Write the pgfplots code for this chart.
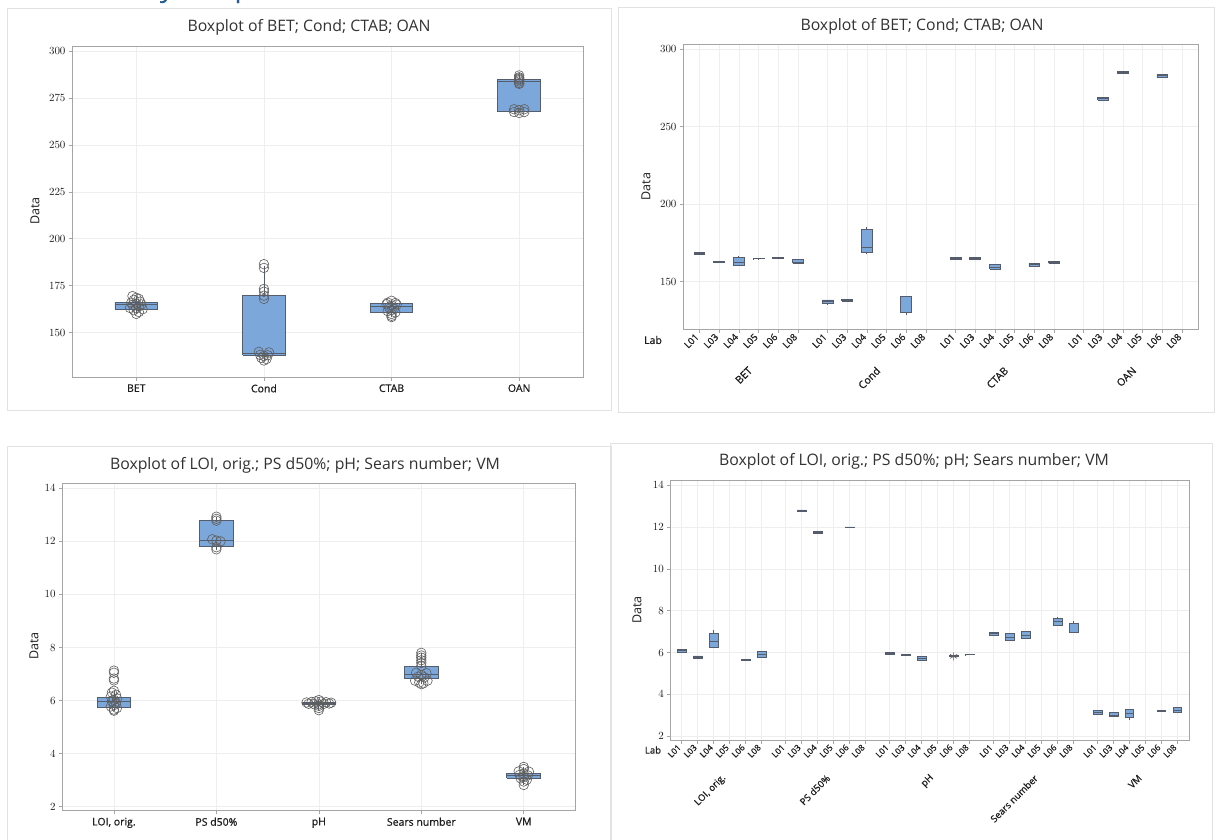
\documentclass[border=0pt]{standalone}
\usepackage{fontspec}
\setmainfont{Open Sans}
\newfontfamily\tf{Open Sans}[FakeBold=0.7]
\usepackage{pgfplots}
\pgfplotsset{compat=1.18}
\definecolor{boxfill}{RGB}{124,167,218}
\definecolor{boxedge}{RGB}{85,93,108}
\definecolor{ptc}{RGB}{95,95,95}
\definecolor{gridc}{RGB}{238,238,238}
\definecolor{axisc}{RGB}{165,165,165}
\definecolor{framec}{RGB}{226,226,226}
\definecolor{txt}{RGB}{30,30,30}
\definecolor{titlec}{RGB}{50,50,50}
\definecolor{hdr}{RGB}{40,90,140}
\pgfplotsset{
  mini/.style={
    scale only axis, anchor=north west,
    axis line style={draw=axisc, line width=0.9pt},
    tick align=outside, tick pos=left,
    major tick length=3.5pt,
    tick style={draw=axisc, line width=0.7pt},
    grid=major, major grid style={draw=gridc, line width=0.7pt},
    tick label style={font=\tf\fontsize{10.5}{12}\selectfont, text=txt},
    clip=false,
  },
  pts/.style={only marks, mark=o, mark size=4.8pt, draw=ptc, mark options={line width=0.6pt, draw=ptc, fill=none}},
}
% pos, lw, lq, med, uq, uw, halfwidth
\newcommand\bx[7]{%
  \pgfmathsetmacro\xa{#1-#7}\pgfmathsetmacro\xb{#1+#7}%
  \addplot[draw=boxedge, line width=0.8pt, mark=none] coordinates {(#1,#2)(#1,#6)};%
  \addplot[draw=boxedge, fill=boxfill, line width=0.8pt, mark=none, line join=miter] coordinates {(\xa,#3)(\xb,#3)(\xb,#5)(\xa,#5)(\xa,#3)};%
  \addplot[draw=boxedge, line width=0.9pt, mark=none] coordinates {(\xa,#4)(\xb,#4)};%
}
\begin{document}
\begin{tikzpicture}
\useasboundingbox (0pt,0pt) rectangle (1219pt,-839pt);
\fill[white] (0pt,0pt) rectangle (1219pt,-839pt);
\begin{scope}
\clip (0pt,0pt) rectangle (600pt,-7pt);
\node[anchor=base west, inner sep=0pt, text=hdr, font=\fontsize{30}{36}\selectfont] at (40pt,4pt) {Summary boxplot};
\end{scope}
% panel frames
\draw[framec, line width=1pt] (7pt,-8pt) rectangle (611pt,-410pt);
\draw[framec, line width=1pt] (618pt,-7pt) rectangle (1214pt,-412pt);
\draw[framec, line width=1pt] (7pt,-446pt) rectangle (611pt,-845pt);
\draw[framec, line width=1pt] (610pt,-443pt) rectangle (1212pt,-845pt);
% titles
\node[text=titlec, font=\fontsize{15.8}{18}\selectfont] at (309pt,-27.5pt) {Boxplot of BET; Cond; CTAB; OAN};
\node[text=titlec, font=\fontsize{15.8}{18}\selectfont] at (922pt,-26pt) {Boxplot of BET; Cond; CTAB; OAN};
\node[text=titlec, font=\fontsize{15.8}{18}\selectfont] at (305pt,-465pt) {Boxplot of LOI, orig.; PS d50\%; pH; Sears number; VM};
\node[text=titlec, font=\fontsize{15.8}{18}\selectfont] at (914pt,-461pt) {Boxplot of LOI, orig.; PS d50\%; pH; Sears number; VM};
% y labels
\node[rotate=90, text=txt, font=\fontsize{12.5}{14}\selectfont] at (35pt,-211pt) {Data};
\node[rotate=90, text=txt, font=\fontsize{12.5}{14}\selectfont] at (646pt,-186.5pt) {Data};
\node[rotate=90, text=txt, font=\fontsize{12.5}{14}\selectfont] at (34pt,-646pt) {Data};
\node[rotate=90, text=txt, font=\fontsize{12.5}{14}\selectfont] at (637pt,-610pt) {Data};
\node[text=txt, font=\tf\fontsize{10.5}{12}\selectfont] at (653pt,-340pt) {Lab};
\node[text=txt, font=\tf\fontsize{9.5}{11}\selectfont] at (653pt,-750pt) {Lab};

% ---------- Panel 1 ----------
\begin{axis}[mini, at={(72.5pt,-46pt)}, width=510.5pt, height=331.3pt,
  xmin=0.5, xmax=4.5, ymin=126.25, ymax=302.66,
  xtick={1,2,3,4}, xticklabels={BET,Cond,CTAB,OAN},
  ytick={150,175,200,225,250,275,300}]
\bx{1}{160}{162.5}{164.9}{166.2}{169.5}{0.167}
\bx{2}{135.2}{138}{138.7}{170}{185.5}{0.167}
\bx{3}{158.3}{161}{164}{165.8}{167}{0.167}
\bx{4}{267}{267.7}{284}{284.8}{287}{0.167}
\addplot[pts] coordinates {
(0.97,169.5)(1.0,168.6)(1.02,168)(0.98,167.5)(1.03,166.5)(0.96,166)(1.0,165.5)(1.04,165)(0.97,164.8)(1.02,164)(0.95,163.2)(1.0,163)(1.05,162.5)(0.98,162)(1.02,161)(1.0,160)
(2,186.5)(2,184.5)(2,173.3)(2,171.8)(2,169.7)(2,168)(1.96,139.8)(2.04,139.5)(1.97,138.2)(2.03,138)(2,137.6)(1.98,136.6)(2.02,136)(2,135.2)
(3,167)(2.97,166)(3.03,165.8)(2.96,165.2)(3.04,165)(3,164.5)(2.98,163.5)(3.02,162.8)(3,162)(2.97,161.5)(3.03,160.8)(3,160)(3,159)(3,158.3)
(4,287)(4,286)(4,285.5)(4,285)(4,284.5)(4,283.8)(4,283)(4,282.5)(3.96,269)(4.04,269)(4,268.5)(3.96,267.5)(4.04,267.5)(4,267)
};
\end{axis}

% ---------- Panel 2 ----------
\begin{axis}[mini, at={(683.5pt,-44.7pt)}, width=514.5pt, height=284.6pt,
  xmin=-0.81, xmax=25.31, ymin=119.3, ymax=302.8,
  xtick={0,1,2,3,4,5,6.5,7.5,8.5,9.5,10.5,11.5,13,14,15,16,17,18,19.5,20.5,21.5,22.5,23.5,24.5},
  xticklabels={L01,L03,L04,L05,L06,L08,L01,L03,L04,L05,L06,L08,L01,L03,L04,L05,L06,L08,L01,L03,L04,L05,L06,L08},
  xticklabel style={rotate=45, anchor=east, font=\tf\fontsize{9.5}{11}\selectfont},
  ytick={150,200,250,300}]
\bx{0}{167.5}{167.6}{168.0}{168.7}{168.8}{0.275}
\bx{1}{162.1}{162.2}{162.5}{163.3}{163.4}{0.275}
\bx{2}{160.1}{160.8}{162.5}{165.9}{166.5}{0.275}
\bx{3}{164.7}{164.75}{164.8}{164.85}{164.9}{0.275}
\bx{4}{164.8}{164.8}{165.2}{165.7}{165.8}{0.275}
\bx{5}{162.0}{162.0}{162.7}{164.2}{164.8}{0.275}
\bx{6.5}{135.2}{135.8}{137.1}{138.2}{138.3}{0.275}
\bx{7.5}{137.5}{137.6}{138.0}{138.6}{138.7}{0.275}
\bx{8.5}{167.8}{168.7}{172.2}{183.8}{185}{0.275}
\bx{10.5}{128.5}{130.0}{130.0}{140.3}{140.3}{0.275}
\bx{13}{164.6}{164.6}{165.0}{165.5}{165.5}{0.275}
\bx{14}{164.2}{164.2}{165.0}{165.9}{165.9}{0.275}
\bx{15}{158.2}{158.2}{159.5}{161.0}{161.0}{0.275}
\bx{17}{160.1}{160.1}{160.8}{161.8}{161.8}{0.275}
\bx{18}{161.8}{161.8}{162.5}{163.1}{163.1}{0.275}
\bx{20.5}{267.2}{267.2}{268.0}{268.9}{268.9}{0.275}
\bx{21.5}{284.0}{284.0}{284.9}{285.5}{285.9}{0.275}
\bx{23.5}{281.6}{281.6}{282.7}{283.8}{283.8}{0.275}
\node[text=txt, font=\tf\fontsize{10.5}{12}\selectfont, anchor=east, xshift=4pt, yshift=-37pt, rotate=45] at (axis cs:2.5,119.3) {BET};
\node[text=txt, font=\tf\fontsize{10.5}{12}\selectfont, anchor=east, xshift=4pt, yshift=-37pt, rotate=45] at (axis cs:9,119.3) {Cond};
\node[text=txt, font=\tf\fontsize{10.5}{12}\selectfont, anchor=east, xshift=4pt, yshift=-37pt, rotate=45] at (axis cs:15.5,119.3) {CTAB};
\node[text=txt, font=\tf\fontsize{10.5}{12}\selectfont, anchor=east, xshift=4pt, yshift=-37pt, rotate=45] at (axis cs:22,119.3) {OAN};
\end{axis}

% ---------- Panel 3 ----------
\begin{axis}[mini, at={(62.7pt,-483pt)}, width=512.3pt, height=327.7pt,
  xmin=0.5, xmax=5.5, ymin=1.85, ymax=14.2,
  xtick={1,2,3,4,5}, xticklabels={{LOI, orig.},{PS d50\%},pH,Sears number,VM},
  ytick={2,4,6,8,10,12,14}]
\bx{1}{5.62}{5.73}{5.97}{6.12}{6.37}{0.165}
\bx{2}{11.68}{11.81}{12.03}{12.8}{12.93}{0.165}
\bx{3}{5.64}{5.86}{5.9}{5.93}{6.02}{0.165}
\bx{4}{6.62}{6.85}{6.98}{7.3}{7.8}{0.165}
\bx{5}{2.82}{3.07}{3.17}{3.25}{3.5}{0.165}
\addplot[pts] coordinates {
(1,7.13)(1,7.05)(1,6.83)(1,6.76)(1,6.37)(0.98,6.3)(1.02,6.22)(0.97,6.15)(1.03,6.08)(1,6.03)(0.98,5.97)(1.02,5.9)(1,5.83)(0.97,5.78)(1.03,5.72)(1,5.66)(1,5.62)
(2,12.93)(2,12.85)(2,12.78)(1.96,12.08)(2,12.03)(2.04,12.0)(2,11.78)(2,11.7)
(2.88,5.93)(2.93,5.95)(2.97,5.97)(3.02,5.96)(3.07,5.94)(3.12,5.92)(2.9,5.88)(2.95,5.87)(3.0,5.86)(3.05,5.88)(3.1,5.89)(3,6.02)(3,5.8)(3,5.72)(3,5.64)
(4,7.8)(4,7.7)(4,7.62)(4,7.52)(4,7.42)(4,7.3)(3.95,7.05)(4.05,7.03)(4,6.97)(3.97,6.9)(4.03,6.88)(3.94,6.75)(4.06,6.75)(3.98,6.68)(4.02,6.65)(4,6.62)
(5,3.5)(5,3.42)(4.95,3.33)(5.05,3.32)(5,3.25)(4.96,3.2)(5.04,3.18)(5,3.12)(4.97,3.07)(5.03,3.02)(5,2.95)(5,2.82)
};
\end{axis}

% ---------- Panel 4 ----------
\begin{axis}[mini, at={(670.8pt,-480.7pt)}, width=518.8pt, height=259.3pt,
  xmin=-0.69, xmax=31.76, ymin=1.82, ymax=14.22,
  xtick={0,1,2,3,4,5,6.5,7.5,8.5,9.5,10.5,11.5,13,14,15,16,17,18,19.5,20.5,21.5,22.5,23.5,24.5,26,27,28,29,30,31},
  xticklabels={L01,L03,L04,L05,L06,L08,L01,L03,L04,L05,L06,L08,L01,L03,L04,L05,L06,L08,L01,L03,L04,L05,L06,L08,L01,L03,L04,L05,L06,L08},
  xticklabel style={rotate=45, anchor=east, font=\tf\fontsize{8.5}{10}\selectfont},
  ytick={2,4,6,8,10,12,14}]
\bx{0}{6.01}{6.01}{6.08}{6.14}{6.14}{0.275}
\bx{1}{5.73}{5.73}{5.79}{5.84}{5.84}{0.275}
\bx{2}{6.20}{6.24}{6.54}{6.90}{7.06}{0.275}
\bx{4}{5.64}{5.64}{5.66}{5.68}{5.68}{0.275}
\bx{5}{5.78}{5.78}{5.92}{6.06}{6.06}{0.275}
\bx{7.5}{12.74}{12.74}{12.78}{12.82}{12.82}{0.275}
\bx{8.5}{11.70}{11.70}{11.75}{11.79}{11.79}{0.275}
\bx{10.5}{11.99}{11.99}{12.0}{12.01}{12.01}{0.275}
\bx{13}{5.92}{5.92}{5.95}{5.99}{5.99}{0.275}
\bx{14}{5.85}{5.85}{5.89}{5.93}{5.93}{0.275}
\bx{15}{5.65}{5.65}{5.70}{5.81}{5.81}{0.275}
\bx{17}{5.84}{5.84}{5.86}{5.87}{5.87}{0.275}
\bx{18}{5.89}{5.895}{5.90}{5.905}{5.91}{0.275}
\bx{19.5}{6.82}{6.82}{6.9}{6.97}{6.97}{0.275}
\bx{20.5}{6.59}{6.59}{6.71}{6.92}{6.92}{0.275}
\bx{21.5}{6.67}{6.67}{6.84}{7.01}{7.01}{0.275}
\bx{23.5}{7.31}{7.31}{7.48}{7.65}{7.7}{0.275}
\bx{24.5}{6.95}{6.95}{6.97}{7.40}{7.5}{0.275}
\bx{26}{3.06}{3.06}{3.16}{3.24}{3.24}{0.275}
\bx{27}{2.95}{2.95}{3.0}{3.12}{3.12}{0.275}
\bx{28}{2.8}{2.90}{3.10}{3.29}{3.29}{0.275}
\bx{30}{3.19}{3.19}{3.22}{3.25}{3.25}{0.275}
\bx{31}{3.16}{3.16}{3.25}{3.36}{3.42}{0.275}
\addplot[only marks, mark=asterisk, mark size=4pt, draw=ptc, mark options={line width=0.6pt}] coordinates {(17,5.82)};
\node[text=txt, font=\tf\fontsize{9.5}{11}\selectfont, anchor=east, xshift=5pt, yshift=-34pt, rotate=45] at (axis cs:2.5,1.82) {LOI, orig.};
\node[text=txt, font=\tf\fontsize{9.5}{11}\selectfont, anchor=east, xshift=5pt, yshift=-34pt, rotate=45] at (axis cs:9,1.82) {PS d50\%};
\node[text=txt, font=\tf\fontsize{9.5}{11}\selectfont, anchor=east, xshift=5pt, yshift=-34pt, rotate=45] at (axis cs:15.5,1.82) {pH};
\node[text=txt, font=\tf\fontsize{9.5}{11}\selectfont, anchor=east, xshift=5pt, yshift=-34pt, rotate=45] at (axis cs:22,1.82) {Sears number};
\node[text=txt, font=\tf\fontsize{9.5}{11}\selectfont, anchor=east, xshift=5pt, yshift=-34pt, rotate=45] at (axis cs:28.5,1.82) {VM};
\end{axis}
\end{tikzpicture}
\end{document}
